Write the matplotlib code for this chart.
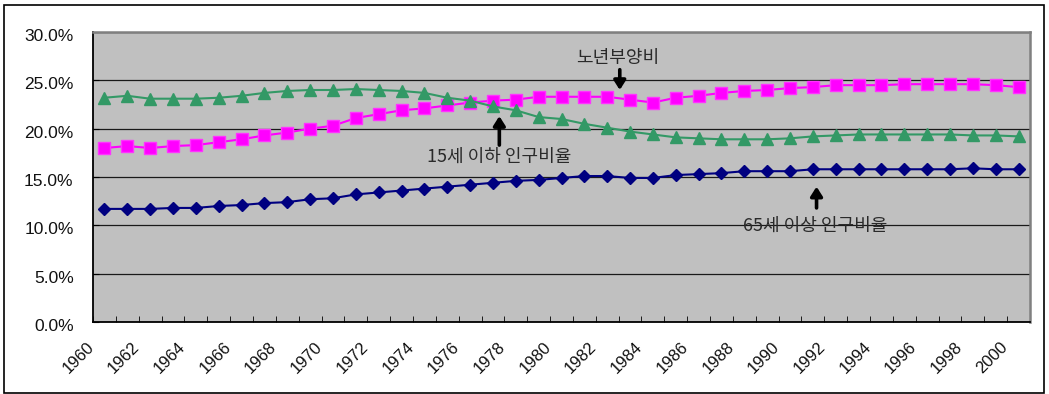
import matplotlib
matplotlib.use("Agg")
import matplotlib.pyplot as plt
import matplotlib.transforms as mtransforms
from matplotlib.patches import Rectangle
from matplotlib.ticker import FuncFormatter

years = list(range(1960, 2001))

# 65세 이상 인구비율 (%)
elderly_share = [11.7, 11.7, 11.7, 11.8, 11.8, 12.0, 12.1, 12.3, 12.4, 12.7,
                 12.8, 13.2, 13.4, 13.6, 13.8, 14.0, 14.2, 14.4, 14.6, 14.7,
                 14.9, 15.1, 15.1, 14.9, 14.9, 15.2, 15.3, 15.4, 15.6, 15.6,
                 15.6, 15.8, 15.8, 15.8, 15.8, 15.8, 15.8, 15.8, 15.9, 15.8,
                 15.8]

# 노년부양비 (%)
old_age_dependency = [18.0, 18.2, 18.0, 18.2, 18.3, 18.6, 18.9, 19.3, 19.6, 20.0,
                      20.3, 21.1, 21.5, 21.9, 22.1, 22.4, 22.7, 22.9, 23.0, 23.3,
                      23.3, 23.3, 23.3, 23.0, 22.7, 23.2, 23.4, 23.7, 23.9, 24.0,
                      24.2, 24.3, 24.5, 24.5, 24.5, 24.6, 24.6, 24.6, 24.6, 24.5,
                      24.3]

# 15세 이하 인구비율 (%)
youth_share = [23.2, 23.4, 23.1, 23.1, 23.1, 23.2, 23.4, 23.7, 23.9, 24.0,
               24.0, 24.1, 24.0, 23.9, 23.7, 23.2, 22.9, 22.3, 21.9, 21.2,
               21.0, 20.5, 20.1, 19.7, 19.4, 19.1, 19.0, 18.9, 18.9, 18.9,
               19.0, 19.2, 19.3, 19.4, 19.4, 19.4, 19.4, 19.4, 19.3, 19.3,
               19.2]

y_ticks = [0, 5, 10, 15, 20, 25, 30]

W, H, DPI = 1049, 394, 100
fig = plt.figure(figsize=(W / DPI, H / DPI), dpi=DPI)
fig.patch.set_facecolor("white")

left, right, top, bottom = 93, 1030, 32, 322
ax = fig.add_axes([left / W, (H - bottom) / H, (right - left) / W, (bottom - top) / H])
ax.set_facecolor("#C0C0C0")

x = list(range(len(years)))

ax.plot(x, elderly_share, color="#000080", lw=1.5, marker="D", ms=6.4,
        mec="#000080", mfc="#000080", zorder=3)
ax.plot(x, old_age_dependency, color="#FF00FF", lw=1.5, marker="s", ms=8.2,
        mec="#FF33FF", mfc="#FF00FF", zorder=3)
ax.plot(x, youth_share, color="#339966", lw=1.5, marker="^", ms=8.4,
        mec="#339966", mfc="#339966", zorder=3)

ax.set_xlim(-0.5, len(years) - 0.5)
ax.set_ylim(0, 30)

# horizontal gridlines
ax.set_yticks(y_ticks)
ax.yaxis.set_major_formatter(FuncFormatter(lambda v, p: f"{v:.1f}%"))
ax.grid(axis="y", color="#1a1a1a", lw=0.9)
ax.set_axisbelow(True)
ax.tick_params(axis="y", direction="in", length=4, color="black", pad=14,
               labelsize=12.5, labelcolor="#111111")
yshift = mtransforms.ScaledTranslation(0, -3 / DPI, fig.dpi_scale_trans)
for lab in ax.get_yticklabels():
    lab.set_fontfamily("Liberation Sans")
    lab.set_transform(lab.get_transform() + yshift)

# category ticks between years, labels every second year
ax.set_xticks(x[::2])
ax.set_xticklabels([str(y) for y in years[::2]], rotation=45, ha="right",
                   va="center", rotation_mode="anchor",
                   fontfamily="Liberation Sans", fontsize=12, color="#111111")
ax.set_xticks([i - 0.5 for i in range(len(years) + 1)], minor=True)
ax.tick_params(axis="x", which="major", length=0, pad=16)
ax.tick_params(axis="x", which="minor", direction="in", length=4, color="black")
shift = mtransforms.ScaledTranslation(-13 / DPI, 0, fig.dpi_scale_trans)
for lab in ax.get_xticklabels():
    lab.set_transform(lab.get_transform() + shift)

for side in ("left", "bottom"):
    ax.spines[side].set_color("black")
    ax.spines[side].set_linewidth(1.3)
for side in ("top", "right"):
    ax.spines[side].set_color("#808080")
    ax.spines[side].set_linewidth(1.8)

# series annotations with arrows
kfont = ["Noto Sans CJK KR", "DejaVu Sans"]
txt_color = "#2a2a2a"
arrow = dict(arrowstyle="-|>,head_width=0.35,head_length=0.55", color="black",
             lw=2.6, shrinkA=0, shrinkB=0)

ax.text(22.48, 27.35, "노년부양비", ha="center", va="center", fontsize=13,
        family=kfont, color=txt_color)
ax.annotate("", xy=(22.55, 24.0), xytext=(22.55, 26.1), arrowprops=arrow)

ax.text(17.26, 17.05, "15세 이하 인구비율", ha="center", va="center", fontsize=13,
        family=kfont, color=txt_color)
ax.annotate("", xy=(17.28, 21.3), xytext=(17.28, 18.3), arrowprops=arrow)

ax.text(31.12, 9.93, "65세 이상 인구비율", ha="center", va="center", fontsize=13,
        family=kfont, color=txt_color)
ax.annotate("", xy=(31.16, 14.0), xytext=(31.16, 11.8), arrowprops=arrow)

# outer chart frame
fig.patches.append(Rectangle((4 / W, 1.5 / H), 1039.5 / W, 388 / H,
                             transform=fig.transFigure, fill=False,
                             edgecolor="black", lw=1.2))

fig.savefig("out.png", dpi=DPI)
